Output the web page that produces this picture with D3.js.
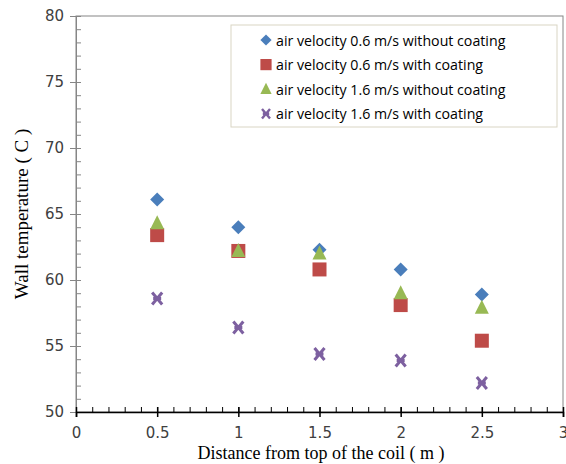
<!DOCTYPE html>
<html>
<head>
<meta charset="utf-8">
<script src="https://cdn.jsdelivr.net/npm/d3@7"></script>
<style>
  body { margin: 0; background: #fff; }
  svg { display: block; }
</style>
</head>
<body>
<div id="chart"></div>
<script>
// data
const distances = [0.5, 1, 1.5, 2, 2.5];
const v06NoCoat = [66.1, 64.0, 62.3, 60.8, 58.9];
const v06Coat = [63.4, 62.2, 60.8, 58.1, 55.4];
const v16NoCoat = [64.3, 62.2, 62.0, 59.0, 57.9];
const v16Coat = [58.6, 56.4, 54.4, 53.9, 52.2];
const seriesNames = [
  "air velocity 0.6 m/s without coating",
  "air velocity 0.6 m/s with coating",
  "air velocity 1.6 m/s without coating",
  "air velocity 1.6 m/s with coating"
];
const xTicks = [0, 0.5, 1, 1.5, 2, 2.5, 3];
const yTicks = [50, 55, 60, 65, 70, 75, 80];

const width = 566;
const height = 464;
const margin = { top: 16, right: 3, bottom: 52, left: 76 };

const series = [
  { name: seriesNames[0], values: v06NoCoat, color: "#4a7ebb", shape: "diamond" },
  { name: seriesNames[1], values: v06Coat, color: "#be4b48", shape: "square" },
  { name: seriesNames[2], values: v16NoCoat, color: "#98b954", shape: "triangle" },
  { name: seriesNames[3], values: v16Coat, color: "#7d60a0", shape: "cross" }
];

const svg = d3.select("#chart")
  .append("svg")
  .attr("width", width)
  .attr("height", height);

const xScale = d3.scaleLinear().domain([0, 3]).range([margin.left, width - margin.right]);
const yScale = d3.scaleLinear().domain([50, 80]).range([height - margin.bottom, margin.top]);

// plot area border
svg.append("rect")
  .attr("x", xScale(0))
  .attr("y", yScale(80))
  .attr("width", xScale(3) - xScale(0))
  .attr("height", yScale(50) - yScale(80))
  .attr("fill", "none")
  .attr("stroke", "#868686")
  .attr("stroke-width", 1);

// minor ticks (inside)
svg.append("g")
  .attr("transform", `translate(${xScale(0)},0)`)
  .call(d3.axisRight(yScale).tickValues(d3.range(50, 81, 1)).tickSize(5).tickFormat(""))
  .call(g => g.select(".domain").remove())
  .selectAll("line").attr("stroke", "#868686");

svg.append("g")
  .attr("transform", `translate(0,${yScale(50)})`)
  .call(d3.axisTop(xScale).tickValues(d3.range(0, 3.01, 0.1)).tickSize(5).tickFormat(""))
  .call(g => g.select(".domain").remove())
  .selectAll("line").attr("stroke", "#000");

// y axis
const yAxis = svg.append("g")
  .attr("transform", `translate(${xScale(0)},0)`)
  .call(d3.axisLeft(yScale).tickValues(yTicks).tickSize(6).tickPadding(6));
yAxis.select(".domain").attr("stroke", "#868686");
yAxis.selectAll("line").attr("stroke", "#868686");
yAxis.selectAll("text")
  .attr("fill", "#404040")
  .style("font-family", "DejaVu Sans")
  .style("font-size", "15px");

// x axis
const xAxis = svg.append("g")
  .attr("transform", `translate(0,${yScale(50)})`)
  .call(d3.axisBottom(xScale).tickValues(xTicks).tickSize(5).tickPadding(10).tickFormat(d3.format("~g")));
xAxis.select(".domain").attr("stroke", "#000").attr("stroke-width", 1.5);
xAxis.selectAll("line").attr("stroke", "#000").attr("y1", -5).attr("stroke-width", 1.5);
xAxis.selectAll("text")
  .attr("fill", "#404040")
  .style("font-family", "DejaVu Sans")
  .style("font-size", "15px");

// axis titles
svg.append("text")
  .attr("x", 321)
  .attr("y", 459)
  .attr("text-anchor", "middle")
  .style("font-family", "Liberation Serif")
  .style("font-size", "18px")
  .attr("fill", "#000")
  .text("Distance from top of the coil ( m )");

svg.append("text")
  .attr("transform", `translate(28,${(yScale(50) + yScale(80)) / 2}) rotate(-90)`)
  .attr("text-anchor", "middle")
  .style("font-family", "Liberation Serif")
  .style("font-size", "19px")
  .attr("fill", "#000")
  .text("Wall temperature ( C )");

// markers
function drawMarker(g, shape, color) {
  if (shape === "diamond") {
    g.append("path").attr("d", "M0,-7L7,0L0,7L-7,0Z").attr("fill", color);
  } else if (shape === "square") {
    g.append("rect").attr("x", -7).attr("y", -7).attr("width", 14).attr("height", 14).attr("fill", color);
  } else if (shape === "triangle") {
    g.append("path").attr("d", "M0,-8L7,6L-7,6Z").attr("fill", color);
  } else {
    g.append("path").attr("d", "M-5,-6L5,6M5,-6L-5,6M-4,0L4,0")
      .attr("stroke", color).attr("stroke-width", 3).attr("fill", "none");
  }
}

series.forEach(s => {
  const dots = svg.append("g").attr("class", "dots");
  s.values.forEach((v, i) => {
    const g = dots.append("g")
      .attr("transform", `translate(${xScale(distances[i])},${yScale(v)})`);
    drawMarker(g, s.shape, s.color);
  });
});

// legend
const legend = svg.append("g").attr("class", "legend");
legend.append("rect")
  .attr("x", 231).attr("y", 25)
  .attr("width", 326).attr("height", 102)
  .attr("fill", "#fff")
  .attr("stroke", "#d9d5c4");

series.forEach((s, i) => {
  const y = 40 + i * 24.6;
  const g = legend.append("g").attr("transform", `translate(266,${y})`);
  const m = g.append("g").attr("transform", "scale(0.8)");
  drawMarker(m, s.shape, s.color);
  g.append("text")
    .attr("x", 10)
    .attr("y", 5.5)
    .style("font-family", "Open Sans")
    .style("font-size", "14.2px")
    .attr("fill", "#000")
    .text(s.name);
});
</script>
</body>
</html>
